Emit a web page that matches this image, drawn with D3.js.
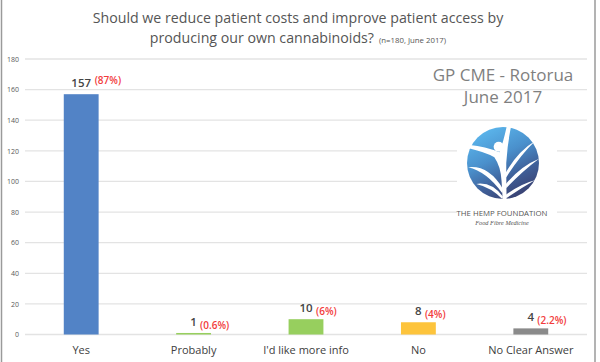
<!DOCTYPE html>
<html><head><meta charset="utf-8">
<script src="https://cdn.jsdelivr.net/npm/d3@7/dist/d3.min.js"></script>
<style>body{margin:0;background:#fff;}svg{display:block;}</style>
</head><body><svg id="c" width="600" height="362"></svg>
<script>
const categories = ["Yes", "Probably", "I'd like more info", "No", "No Clear Answer"];
const values = [157, 1, 10, 8, 4];
const percentLabels = ["(87%)", "(0.6%)", "(6%)", "(4%)", "(2.2%)"];
const yTicks = [0, 20, 40, 60, 80, 100, 120, 140, 160, 180];
const titleLines = ["Should we reduce patient costs and improve patient access by", "producing our own cannabinoids?"];
const titleNote = "(n=180, June 2017)";
const eventLines = ["GP CME - Rotorua", "June 2017"];
const barColors = ["#5283c6", "#97cf5e", "#97cf5e", "#fdc43c", "#8a8a8a"];

const svg = d3.select("#c");
const font = "'Open Sans', sans-serif";
const x = d3.scaleBand().domain(categories).range([25, 587]).paddingInner(0.69).paddingOuter(0.345);
const y = d3.scaleLinear().domain([0, 180]).range([334.5, 59]);

// frame
svg.append("line").attr("x1",1.5).attr("x2",1.5).attr("y1",0).attr("y2",362).attr("stroke","#9a9a9a").attr("stroke-width",1.5);
svg.append("line").attr("x1",595).attr("x2",595).attr("y1",0).attr("y2",362).attr("stroke","#9a9a9a").attr("stroke-width",1.5);

// grid
svg.append("g").selectAll("line").data(yTicks).join("line")
  .attr("x1",25).attr("x2",587).attr("y1",d=>y(d)).attr("y2",d=>y(d))
  .attr("stroke","#e3e3e3").attr("stroke-width",1.3);

// y axis labels
const yAxis = svg.append("g").attr("transform","translate(19,0)")
  .call(d3.axisLeft(y).tickValues(yTicks).tickSize(0).tickPadding(0));
yAxis.select(".domain").remove();
yAxis.selectAll("text").attr("font-family",font).attr("font-size",7).attr("fill","#595959");

// title
svg.append("text").attr("x",298).attr("y",23).attr("text-anchor","middle").attr("font-family",font)
  .attr("fill","#555").attr("font-size",14.2).text(titleLines[0]);
const t2 = svg.append("text").attr("font-family",font).attr("fill","#555").attr("y",43);
t2.append("tspan").attr("font-size",14.2).text(titleLines[1]);
t2.append("tspan").attr("font-size",7.8).attr("dx",5).text(titleNote);
const bb = t2.node().getBBox();
t2.attr("x", 298 - bb.width/2);

// event text
eventLines.forEach((s,i)=>{
  svg.append("text").attr("x",503).attr("y",81+i*22).attr("text-anchor","middle")
    .attr("font-family",font).attr("font-size",17).attr("fill","#7f7f7f").text(s);
});

// logo
const lg = svg.append("g");
lg.append("rect").attr("x",457).attr("y",124).attr("width",100).attr("height",106).attr("fill","#fff");
const defs = svg.append("defs");
const grad = defs.append("linearGradient").attr("id","lgGrad").attr("x1",0.25).attr("y1",0).attr("x2",0.75).attr("y2",1);
grad.append("stop").attr("offset","0%").attr("stop-color","#5cb8ee");
grad.append("stop").attr("offset","40%").attr("stop-color","#4a90cc");
grad.append("stop").attr("offset","70%").attr("stop-color","#3f5f98");
grad.append("stop").attr("offset","100%").attr("stop-color","#393d6c");
const cx = 503, cy = 163, r = 36;
lg.append("circle").attr("cx",cx).attr("cy",cy).attr("r",r).attr("fill","url(#lgGrad)");
const fig = lg.append("g").attr("transform",`translate(${cx},${cy}) scale(${r})`).attr("fill","#fff");
fig.append("circle").attr("cx",-0.12).attr("cy",-0.45).attr("r",0.14);
fig.append("path").attr("d","M-0.92,-0.4 Q-0.5,-0.3 -0.24,-0.16 Q-0.06,0.1 -0.04,0.5 L-0.01,1.0 L0.1,1.0 Q0.09,0.4 0.09,0.0 Q0.12,-0.5 0.22,-1.0 L0.1,-1.0 Q0.0,-0.55 -0.1,-0.3 Q-0.5,-0.46 -0.92,-0.5 Z");
fig.append("path").attr("d","M0,0.72 Q-0.4,0.05 -0.97,0.12 Q-0.45,0.24 -0.02,0.84 Z");
fig.append("path").attr("d","M0,0.94 Q-0.3,0.52 -0.74,0.58 Q-0.32,0.68 -0.02,1.0 Z");
fig.append("path").attr("d","M0.07,0.28 Q0.4,-0.32 0.9,-0.62 Q0.46,-0.2 0.09,0.4 Z");
fig.append("path").attr("d","M0.08,0.58 Q0.5,0.08 1.0,-0.12 Q0.52,0.24 0.09,0.7 Z");
fig.append("path").attr("d","M0.08,0.88 Q0.5,0.58 0.88,0.48 Q0.5,0.7 0.09,0.98 Z");
lg.append("text").attr("x",502).attr("y",215.5).attr("text-anchor","middle").attr("font-family",font)
  .attr("font-size",7.8).attr("fill","#555").text("THE HEMP FOUNDATION");
lg.append("text").attr("x",502).attr("y",225).attr("text-anchor","middle").attr("font-family","'Liberation Serif', serif")
  .attr("font-style","italic").attr("font-size",6.3).attr("fill","#555").text("Food Fibre Medicine");

// bars
svg.append("g").selectAll("rect").data(values).join("rect")
  .attr("x",(d,i)=>x(categories[i])).attr("width",x.bandwidth())
  .attr("y",d=>y(d)).attr("height",d=>y(0)-y(d))
  .attr("fill",(d,i)=>barColors[i]);

// value labels
const lab = svg.append("g").selectAll("g").data(values).join("g")
  .attr("transform",(d,i)=>`translate(${x(categories[i])+x.bandwidth()/2},${y(d)-7})`);
lab.append("text").attr("text-anchor","middle").attr("font-family",font).attr("font-weight",600)
  .attr("font-size",11.5).attr("fill","#454545").text(d=>d);
lab.append("text").attr("x",(d)=>String(d).length*3.5+3).attr("dy",(d,i)=>i===0?-3:3)
  .attr("font-family",font).attr("font-weight",600).attr("font-size",10).attr("fill","#f23c3c").text((d,i)=>percentLabels[i]);

// x labels
const xAxis = svg.append("g").attr("transform","translate(0,340)")
  .call(d3.axisBottom(x).tickSize(0).tickPadding(6));
xAxis.select(".domain").remove();
xAxis.selectAll("text").attr("font-family",font).attr("font-size",11).attr("fill","#404040");
</script></body></html>
